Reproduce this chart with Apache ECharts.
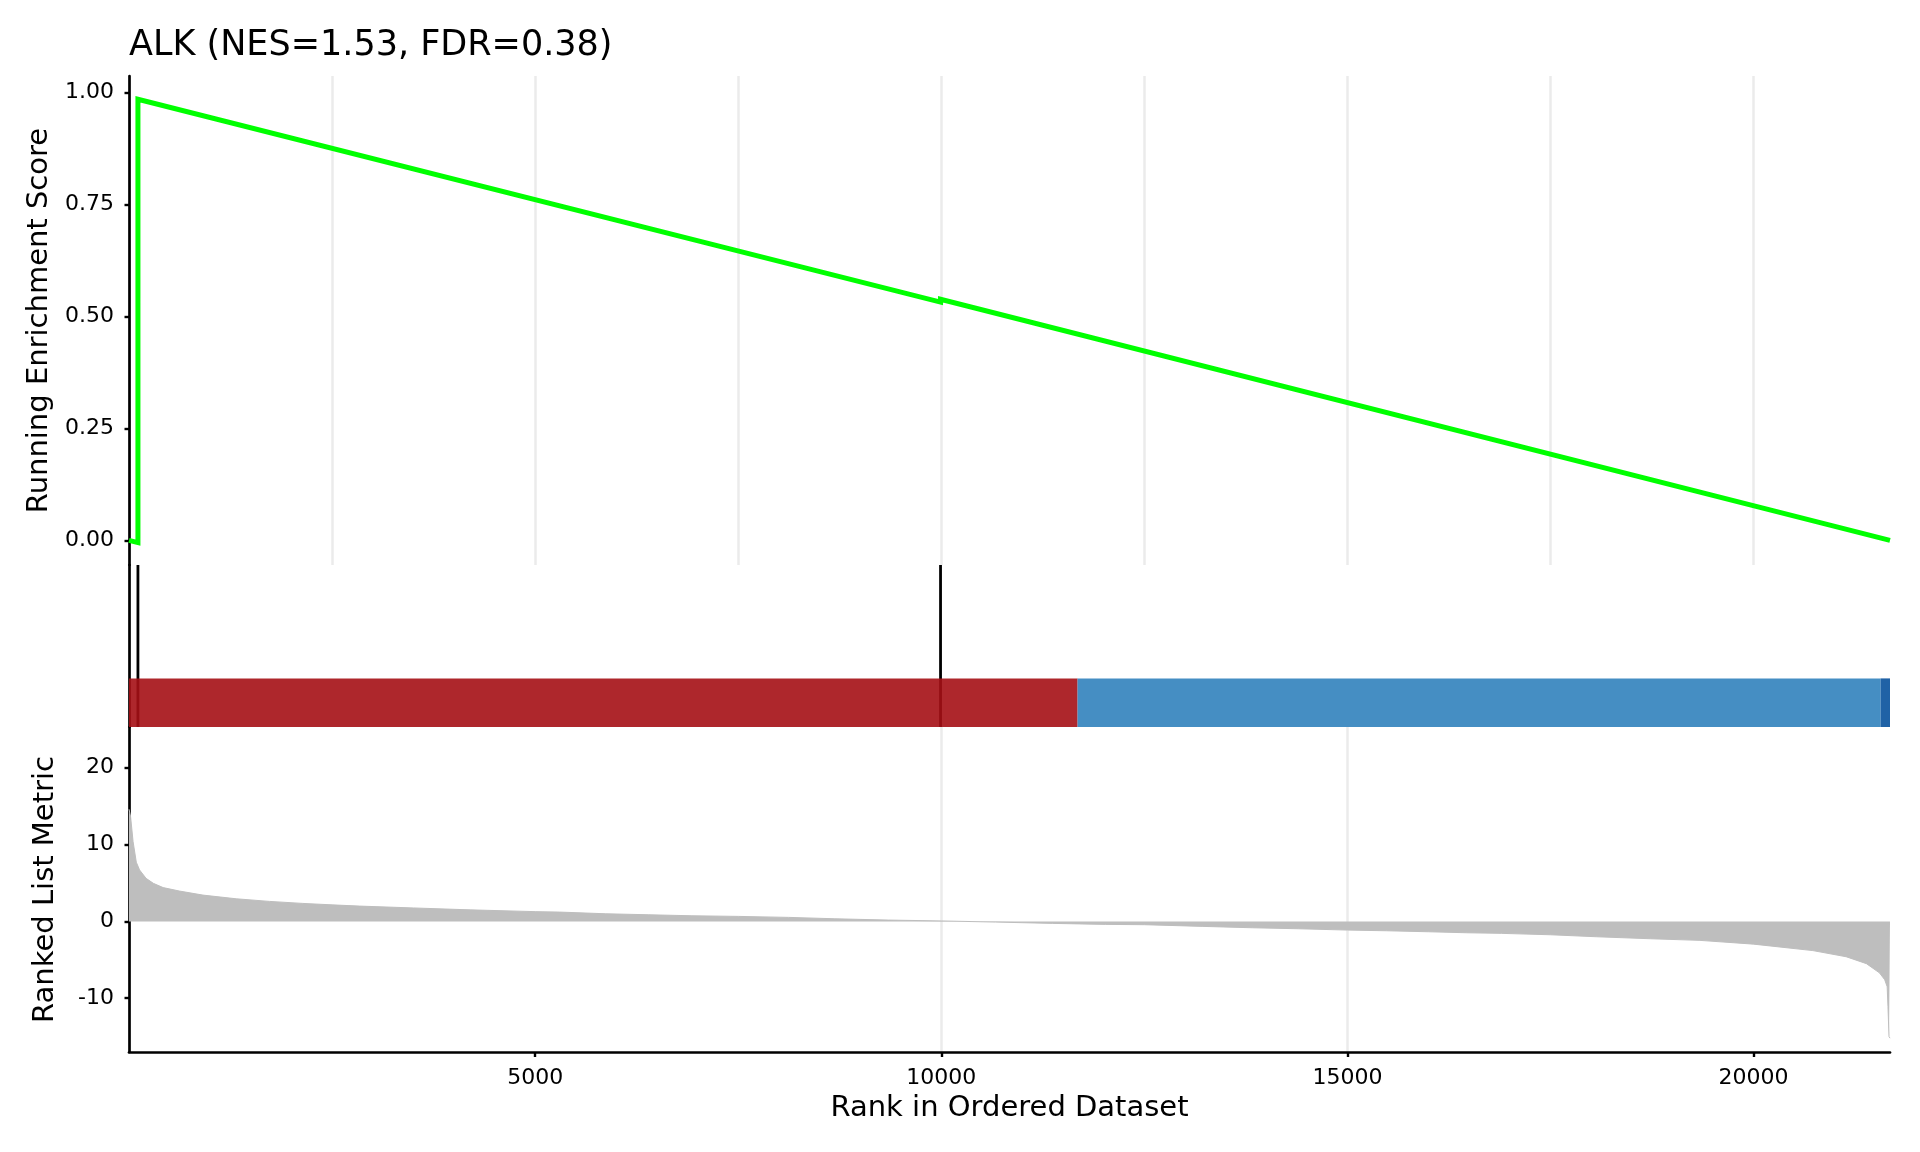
<!DOCTYPE html>
<html>
<head>
<meta charset="utf-8">
<script src="https://cdn.jsdelivr.net/npm/echarts@6/dist/echarts.min.js"></script>
<style>
html, body { margin: 0; padding: 0; background: #fff; }
#chart { width: 1920px; height: 1152px; }
</style>
</head>
<body>
<div id="chart"></div>
<script>
// running enrichment score, corner points of the curve
const esRank = [0, 110, 110, 9991, 9991, 21680];
const esScore = [0, -0.005, 0.985, 0.532, 0.5385, 0];

// gene set hits
const hitRank = [110, 9991];

// colour bar segments
const barStart = [0, 11678, 21565];
const barEnd = [11678, 21565, 21680];
const barColor = ['#A50F15', '#3182BD', '#08519C'];

// ranked list metric
const metricRank = [0, 20, 50, 90, 130, 210, 300, 420, 620, 910, 1320, 1730, 2140, 2500, 2840, 3500, 4200,
  5000, 5300, 5870, 6400, 6930, 7500, 8120, 8690, 9350, 10000, 10670, 11370, 12020, 12500, 13220, 13830,
  14400, 15000, 15480, 16000, 16470, 16900, 17500, 18070, 18730, 19340, 20000, 20730, 21140, 21390, 21550,
  21615, 21645, 21655, 21668, 21680];
const metricValue = [14.6, 13.6, 10.4, 7.7, 6.7, 5.6, 4.95, 4.4, 3.95, 3.42, 2.94, 2.6, 2.34, 2.15, 1.99, 1.75, 1.5,
  1.27, 1.21, 0.99, 0.86, 0.73, 0.65, 0.52, 0.34, 0.17, 0.06, -0.09, -0.26, -0.39, -0.43, -0.65, -0.83,
  -0.96, -1.13, -1.22, -1.35, -1.48, -1.56, -1.74, -2.0, -2.26, -2.47, -2.96, -3.8, -4.6, -5.5, -6.7,
  -7.6, -8.5, -11.1, -15.0, -15.2];

const xTicks = [5000, 10000, 15000, 20000];
const esTicks = [0, 0.25, 0.5, 0.75, 1];
const metricTicks = [-10, 0, 10, 20];

const FONT = 'DejaVu Sans';
const axisLineStyle = { color: '#000', width: 2.7 };
const gridLine = { show: true, lineStyle: { color: '#EBEBEB', width: 2.5 }, showMinLine: false, showMaxLine: false };

const chart = echarts.init(document.getElementById('chart'));

const option = {
  animation: false,
  backgroundColor: '#fff',
  textStyle: { fontFamily: FONT },
  title: {
    text: 'ALK (NES=1.53, FDR=0.38)',
    left: 124,
    top: 23,
    textStyle: { fontFamily: FONT, fontSize: 35, fontWeight: 'normal', color: '#000' }
  },
  grid: [
    { left: 129, right: 30, top: 76, height: 489 },
    { left: 129, right: 30, top: 565, height: 162 },
    { left: 129, right: 30, top: 727, height: 325 }
  ],
  xAxis: [
    {
      gridIndex: 0, type: 'value', min: 0, max: 21680, interval: 2500,
      axisLine: { show: false }, axisTick: { show: false }, axisLabel: { show: false },
      splitLine: gridLine
    },
    {
      gridIndex: 1, type: 'value', min: 0, max: 21680, interval: 2500,
      axisLine: { show: false }, axisTick: { show: false }, axisLabel: { show: false },
      splitLine: { show: false }
    },
    {
      gridIndex: 2, type: 'value', min: 0, max: 21680, interval: 2500,
      axisLine: { show: true, onZero: false, lineStyle: axisLineStyle },
      axisTick: { show: true, length: 5, customValues: xTicks, lineStyle: { color: '#000', width: 2.4 } },
      axisLabel: {
        customValues: xTicks, fontSize: 22, color: '#000', margin: 15, fontFamily: FONT,
        formatter: v => (v % 5000 === 0 && v > 0 ? String(v) : '')
      },
      splitLine: gridLine,
      name: 'Rank in Ordered Dataset', nameLocation: 'middle', nameGap: 42,
      nameTextStyle: { fontSize: 29, color: '#000', fontFamily: FONT }
    }
  ],
  yAxis: [
    {
      gridIndex: 0, type: 'value', min: -0.055, max: 1.037,
      axisLine: { show: true, onZero: false, lineStyle: axisLineStyle },
      axisTick: { show: true, length: 4.5, customValues: esTicks, lineStyle: { color: '#000', width: 2.4 } },
      axisLabel: {
        customValues: esTicks, fontSize: 22, color: '#000', margin: 15, fontFamily: FONT,
        padding: [3, 0, 0, 0],
        formatter: v => v.toFixed(2)
      },
      splitLine: { show: false },
      name: 'Running Enrichment Score', nameLocation: 'middle', nameGap: 69,
      nameTextStyle: { fontSize: 29, color: '#000', fontFamily: FONT }
    },
    {
      gridIndex: 1, type: 'value', min: 0, max: 1,
      axisLine: { show: true, onZero: false, lineStyle: axisLineStyle },
      axisTick: { show: false }, axisLabel: { show: false }, splitLine: { show: false }
    },
    {
      gridIndex: 2, type: 'value', min: -17.0, max: 25.3,
      axisLine: { show: true, onZero: false, lineStyle: axisLineStyle },
      axisTick: { show: true, length: 4.5, customValues: metricTicks, lineStyle: { color: '#000', width: 2.4 } },
      axisLabel: {
        customValues: metricTicks, fontSize: 22, color: '#000', margin: 15, fontFamily: FONT,
        padding: [2, 0, 0, 0],
        formatter: v => String(v)
      },
      splitLine: { show: false },
      name: 'Ranked List Metric', nameLocation: 'middle', nameGap: 69,
      nameTextStyle: { fontSize: 29, color: '#000', fontFamily: FONT }
    }
  ],
  series: [
    {
      type: 'line', xAxisIndex: 0, yAxisIndex: 0, symbol: 'none',
      data: esRank.map((r, i) => [r, esScore[i]]),
      lineStyle: { color: '#00FF00', width: 5, join: 'miter' }
    },
    {
      type: 'custom', xAxisIndex: 1, yAxisIndex: 1,
      data: hitRank.map(r => [r, 1]),
      encode: { x: 0, y: 1 },
      renderItem: (params, api) => {
        const x = api.value(0);
        const p0 = api.coord([x, 0]);
        const p1 = api.coord([x, 1]);
        return {
          type: 'line',
          shape: { x1: p0[0], y1: p0[1], x2: p1[0], y2: p1[1] },
          style: { stroke: '#000', lineWidth: 2.8 }
        };
      }
    },
    {
      type: 'custom', xAxisIndex: 1, yAxisIndex: 1,
      data: barStart.map((s, i) => [s, barEnd[i], 0.3]),
      encode: { x: [0, 1], y: 2 },
      renderItem: (params, api) => {
        const a = api.coord([api.value(0), 0]);
        const b = api.coord([api.value(1), api.value(2)]);
        return {
          type: 'rect',
          shape: { x: a[0], y: b[1], width: b[0] - a[0], height: a[1] - b[1] },
          style: { fill: barColor[params.dataIndex], opacity: 0.9 }
        };
      }
    },
    {
      type: 'line', xAxisIndex: 2, yAxisIndex: 2, symbol: 'none',
      data: metricRank.map((r, i) => [r, metricValue[i]]),
      lineStyle: { color: '#BEBEBE', width: 1 },
      areaStyle: { color: '#BEBEBE', opacity: 1 }
    }
  ]
};

chart.setOption(option);
</script>
</body>
</html>
